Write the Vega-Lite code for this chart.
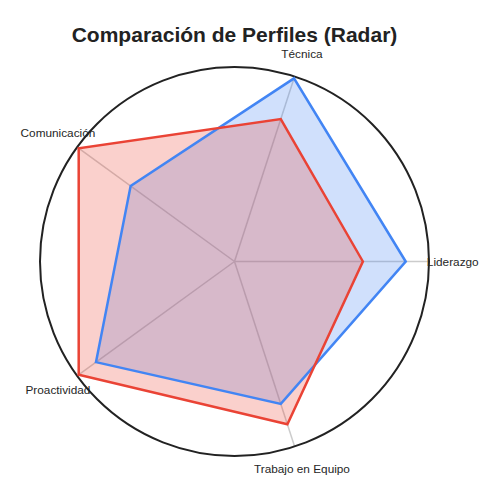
{
  "$schema": "https://vega.github.io/schema/vega-lite/v6.json",
  "autosize": "none",
  "padding": {"left": 40, "top": 67, "right": 71, "bottom": 44},
  "width": 389,
  "height": 389,
  "title": {
    "text": "Comparación de Perfiles (Radar)",
    "font": "Liberation Sans",
    "fontSize": 21,
    "fontWeight": "bold",
    "color": "#222222",
    "anchor": "middle",
    "frame": "group",
    "offset": 3
  },
  "config": {"view": {"stroke": null}},
  "datasets": {
    "ejes": [
      {"eje": "Liderazgo", "idx": 0},
      {"eje": "Técnica", "idx": 1},
      {"eje": "Comunicación", "idx": 2},
      {"eje": "Proactividad", "idx": 3},
      {"eje": "Trabajo en Equipo", "idx": 4}
    ],
    "perfiles": [
      {"perfil": "Perfil A", "eje": "Liderazgo", "idx": 0, "valor": 8},
      {"perfil": "Perfil A", "eje": "Técnica", "idx": 1, "valor": 9},
      {"perfil": "Perfil A", "eje": "Comunicación", "idx": 2, "valor": 6},
      {"perfil": "Perfil A", "eje": "Proactividad", "idx": 3, "valor": 8},
      {"perfil": "Perfil A", "eje": "Trabajo en Equipo", "idx": 4, "valor": 7},
      {"perfil": "Perfil B", "eje": "Liderazgo", "idx": 0, "valor": 6},
      {"perfil": "Perfil B", "eje": "Técnica", "idx": 1, "valor": 7},
      {"perfil": "Perfil B", "eje": "Comunicación", "idx": 2, "valor": 9},
      {"perfil": "Perfil B", "eje": "Proactividad", "idx": 3, "valor": 9},
      {"perfil": "Perfil B", "eje": "Trabajo en Equipo", "idx": 4, "valor": 8}
    ]
  },
  "resolve": {"scale": {"x": "shared", "y": "shared"}},
  "layer": [
    {
      "data": {"name": "ejes"},
      "transform": [
        {"calculate": "datum.idx * 2 * PI / 5", "as": "ang"},
        {"calculate": "9.09 * cos(datum.ang)", "as": "x"},
        {"calculate": "9.09 * sin(datum.ang)", "as": "y"}
      ],
      "mark": {"type": "rule", "color": "#cccccc", "strokeWidth": 1.5},
      "encoding": {
        "x": {"field": "x", "type": "quantitative", "scale": {"domain": [-9.09, 9.09], "nice": false, "zero": false}, "axis": null},
        "y": {"field": "y", "type": "quantitative", "scale": {"domain": [-9.09, 9.09], "nice": false, "zero": false}, "axis": null},
        "x2": {"datum": 0},
        "y2": {"datum": 0}
      }
    },
    {
      "data": {"values": [{"centro": 0}]},
      "mark": {"type": "point", "shape": "circle", "filled": false, "size": 151321, "stroke": "#222222", "strokeWidth": 2, "opacity": 1},
      "encoding": {
        "x": {"field": "centro", "type": "quantitative", "scale": {"domain": [-9.09, 9.09], "nice": false, "zero": false}, "axis": null},
        "y": {"field": "centro", "type": "quantitative", "scale": {"domain": [-9.09, 9.09], "nice": false, "zero": false}, "axis": null}
      }
    },
    {
      "data": {"name": "perfiles"},
      "transform": [
        {"calculate": "datum.idx * 2 * PI / 5", "as": "ang"},
        {"calculate": "datum.valor * cos(datum.ang)", "as": "x"},
        {"calculate": "datum.valor * sin(datum.ang)", "as": "y"}
      ],
      "mark": {"type": "line", "interpolate": "linear-closed", "strokeWidth": 0, "fillOpacity": 0.25},
      "encoding": {
        "x": {"field": "x", "type": "quantitative", "scale": {"domain": [-9.09, 9.09], "nice": false, "zero": false}, "axis": null},
        "y": {"field": "y", "type": "quantitative", "scale": {"domain": [-9.09, 9.09], "nice": false, "zero": false}, "axis": null},
        "order": {"field": "idx"},
        "fill": {"field": "perfil", "type": "nominal", "scale": {"range": ["#4285F4", "#EA4335"]}, "legend": null}
      }
    },
    {
      "data": {"name": "perfiles"},
      "transform": [
        {"calculate": "datum.idx * 2 * PI / 5", "as": "ang"},
        {"calculate": "datum.valor * cos(datum.ang)", "as": "x"},
        {"calculate": "datum.valor * sin(datum.ang)", "as": "y"}
      ],
      "mark": {"type": "line", "interpolate": "linear-closed", "strokeWidth": 2.5},
      "encoding": {
        "x": {"field": "x", "type": "quantitative", "scale": {"domain": [-9.09, 9.09], "nice": false, "zero": false}, "axis": null},
        "y": {"field": "y", "type": "quantitative", "scale": {"domain": [-9.09, 9.09], "nice": false, "zero": false}, "axis": null},
        "order": {"field": "idx"},
        "stroke": {"field": "perfil", "type": "nominal", "scale": {"range": ["#4285F4", "#EA4335"]}, "legend": null}
      }
    },
    {
      "data": {"name": "ejes"},
      "transform": [
        {"calculate": "datum.idx * 2 * PI / 5", "as": "ang"},
        {"calculate": "10.2 * cos(datum.ang)", "as": "x"},
        {"calculate": "10.2 * sin(datum.ang)", "as": "y"}
      ],
      "mark": {"type": "text", "font": "Liberation Sans", "fontSize": 11.8, "color": "#262626", "align": "center", "baseline": "middle"},
      "encoding": {
        "x": {"field": "x", "type": "quantitative", "scale": {"domain": [-9.09, 9.09], "nice": false, "zero": false}, "axis": null},
        "y": {"field": "y", "type": "quantitative", "scale": {"domain": [-9.09, 9.09], "nice": false, "zero": false}, "axis": null},
        "text": {"field": "eje"}
      }
    }
  ]
}
